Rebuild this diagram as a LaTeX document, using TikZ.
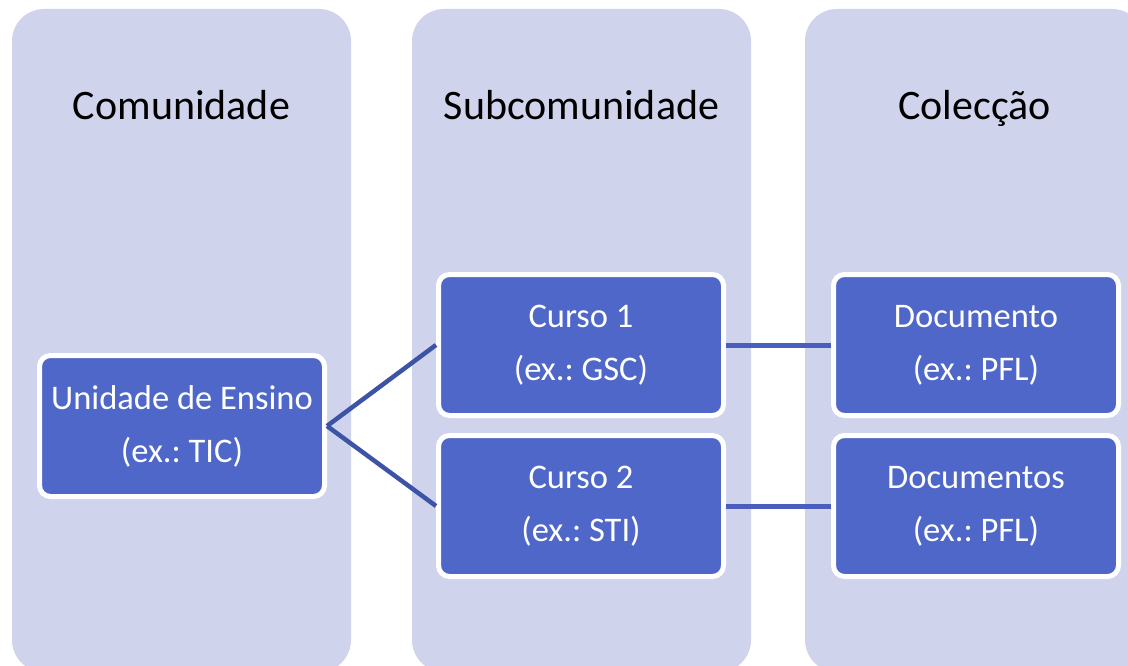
\documentclass[tikz,border=0pt]{standalone}
\usepackage{fontspec}
\setmainfont{Carlito}
\usepackage{tikz}
\usetikzlibrary{positioning}
\definecolor{fundoColuna}{HTML}{D0D3EC}
\definecolor{azulCaixa}{HTML}{4F67C9}
\definecolor{azulLinha}{HTML}{3D54A6}
\definecolor{azulLinhaH}{HTML}{4A5EBD}
\frenchspacing

\begin{document}
\begin{tikzpicture}[x=1pt, y=-1pt,
        col/.style={fill=fundoColuna, rounded corners=32pt},
        tit/.style={anchor=base, font=\fontsize{42}{50}\selectfont},
        cx/.style={draw=white, line width=5pt, fill=azulCaixa, rounded corners=11pt,
            minimum width=285pt, minimum height=141pt, align=center, text=white,
            font=\fontsize{34.5}{53}\selectfont},
        lig/.style={azulLinha, line width=4.5pt},
        ligh/.style={azulLinhaH, line width=5pt}]
        \useasboundingbox (0,0) rectangle (1128,666);
        \clip (0,0) rectangle (1128,666);
        % colunas
        \fill[col] (12,9) rectangle (351,672);
        \fill[col] (412,9) rectangle (751,672);
        \fill[col] (805,9) rectangle (1144,672);
        \node[tit] (tcom) at (181.5,120) {Comunidade};
        \node[tit] (tsub) at (581.5,120) {Subcomunidade};
        \node[tit] (tcol) at (974.5,120) {Colecção};
        % caixas
        \node[cx] (u) at (182,426) {Unidade de Ensino\\(ex.: TIC)};
        \node[cx] (c1) at (581,345) {Curso 1\\(ex.: GSC)};
        \node[cx, below=15pt of c1] (c2) {Curso 2\\(ex.: STI)};
        \node[cx, right=105pt of c1] (d1) {Documento\\(ex.: PFL)};
        \node[cx, right=105pt of c2] (d2) {Documentos\\(ex.: PFL)};
        \draw[lig] (u.east) -- (c1.west);
        \draw[lig] (u.east) -- (c2.west);
        \draw[ligh] (c1.east) -- (d1.west);
        \draw[ligh] (c2.east) -- (d2.west);
    \end{tikzpicture}
\end{document}
